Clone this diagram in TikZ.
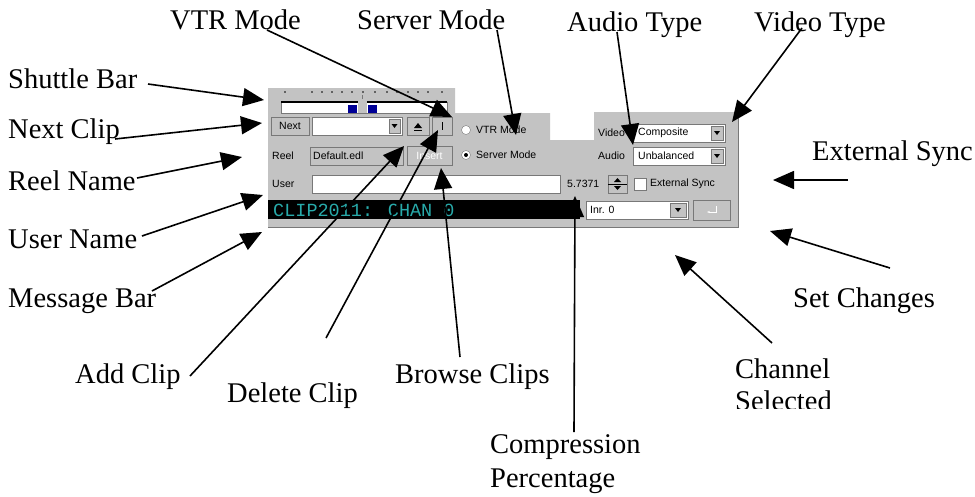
\documentclass[tikz,border=0pt]{standalone}
\usepackage{fontspec}
\setmainfont{Liberation Serif}
\newfontfamily\uifont{Liberation Sans}
\newfontfamily\ledfont{Liberation Mono}
\usetikzlibrary{arrows.meta}
\definecolor{wingrey}{RGB}{195,195,195}
\definecolor{windark}{RGB}{120,120,120}
\definecolor{ledcyan}{RGB}{40,170,170}
\definecolor{thumbblue}{RGB}{0,0,150}
\begin{document}
\begin{tikzpicture}[x=1pt, y=-1pt,
    callout/.style={-{Triangle[length=21pt,width=18pt]}, line width=1.6pt},
    lbl/.style={font=\fontsize{28.5}{34}\selectfont, inner sep=0pt, anchor=base west},
    ui/.style={font=\uifont\fontsize{10.5}{11}\selectfont, inner sep=0pt, anchor=west},
    field/.style={fill=white, draw=windark, line width=0.8pt},
    btn/.style={fill=wingrey, draw=windark, line width=0.8pt, inner sep=0pt}]
    \useasboundingbox[fill=white] (0,0) rectangle (975,496);

    % Screenshot panel
    \fill[wingrey] (268,88) -- (455,88) -- (455,113) -- (550,113) -- (550,140)
        -- (594,140) -- (594,112) -- (738,112) -- (738,227) -- (268,227) -- cycle;
    \draw[windark, line width=1pt] (268,227) -- (738,227) -- (738,112);

    % Shuttle bar
    \foreach \x in {285,312,322,332,342,352,363,375,387,397,408,418,428,442}
        \fill (\x,92) circle (0.9);
    \draw[field] (281,102) rectangle (447,113);
    \draw[black, line width=1.2pt] (281,102) -- (447,102);
    \fill[wingrey] (358,101) rectangle (367,113);
    \draw[windark] (362.5,95) -- (362.5,99);
    \fill[thumbblue] (348,105) rectangle (357,113);
    \fill[thumbblue] (368,105) rectangle (377,113);

    % Next clip row
    \node[btn, ui, anchor=center, minimum width=38pt, minimum height=18pt] (bNext) at (290,126) {Next};
    \draw[field] (312,117) rectangle (402,135);
    \draw[btn] (389,119) rectangle (400,133);
    \fill (391.5,124) -- (397.5,124) -- (394.5,128) -- cycle;
    \draw[btn] (407,117) rectangle (429,135);
    \fill (414,128) -- (422,128) -- (418,123) -- cycle;
    \draw (414,130.5) -- (422,130.5);
    \draw[btn] (432,117) rectangle (452,135);
    \draw (442,122) -- (442,130);
    \draw[fill=white, draw=windark] (466,130) circle (4.5);
    \node[ui] (tVTR) at (476,130) {VTR Mode};

    % Reel row
    \node[ui] (tReel) at (272,156) {Reel};
    \draw[fill=wingrey, draw=windark, line width=0.8pt] (310,147) rectangle (403,165);
    \node[ui] (tDefault) at (313,156) {Default.edl};
    \node[btn, ui, anchor=center, minimum width=45pt, minimum height=19pt,
        text=white] (bInsert) at (429.5,156) {Insert};
    \draw[fill=white, draw=windark] (466,155) circle (4.5);
    \fill (466,155) circle (2);
    \node[ui] (tServer) at (476,155) {Server Mode};

    % Video and audio types
    \node[ui] (tVideo) at (598,133) {Video};
    \draw[field] (633,124) rectangle (725,142);
    \node[ui] (tVideoVal) at (638,133) {Composite};
    \draw[btn] (711,126) rectangle (723,140);
    \fill (714,131) -- (720,131) -- (717,135) -- cycle;
    \node[ui] (tAudio) at (598,156) {Audio};
    \draw[field] (633,147) rectangle (725,165);
    \node[ui] (tAudioVal) at (638,156) {Unbalanced};
    \draw[btn] (711,149) rectangle (723,163);
    \fill (714,154) -- (720,154) -- (717,158) -- cycle;

    % User row
    \node[ui] (tUser) at (272,184) {User};
    \draw[field] (312,175) rectangle (560,193);
    \node[ui] (tPct) at (567,184) {5.7371};
    \draw[btn] (608,175) rectangle (627,193);
    \draw (608,184) -- (627,184);
    \fill (614,182) -- (621,182) -- (617.5,178) -- cycle;
    \fill (614,186) -- (621,186) -- (617.5,190) -- cycle;
    \draw[field] (634,178) rectangle (646,190);
    \node[ui] (tExt) at (650,184) {External Sync};

    % Message bar row
    \fill[black] (268,200) rectangle (580,219);
    \node[font=\ledfont\fontsize{18.5}{19}\selectfont, text=ledcyan, inner sep=0pt,
        anchor=west] (tMsg) at (273,210) {CLIP2011: CHAN 0};
    \draw[field] (586,201) rectangle (688,219);
    \node[ui] (tInr) at (590,210) {Inr. 0};
    \draw[btn] (670,203) rectangle (686,217);
    \fill (675,208) -- (681,208) -- (678,212) -- cycle;
    \draw[btn] (693,200) rectangle (730,220);
    \draw[white, line width=1pt, -{Stealth[length=3pt]}] (716,206) -- (716,212) -- (707,212);

    % Labels
    \node[lbl] (lblVTR) at (170,29) {VTR Mode};
    \node[lbl] (lblServer) at (357,29) {Server Mode};
    \node[lbl] (lblAudio) at (567,31) {Audio Type};
    \node[lbl] (lblVideo) at (754,31) {Video Type};
    \node[lbl] (lblShuttle) at (8,88) {Shuttle Bar};
    \node[lbl] (lblNext) at (8,138) {Next Clip};
    \node[lbl] (lblReel) at (8,190) {Reel Name};
    \node[lbl] (lblUser) at (8,248) {User Name};
    \node[lbl] (lblMsg) at (8,307) {Message Bar};
    \node[lbl] (lblExt) at (812,160) {External Sync};
    \node[lbl] (lblSet) at (793,307) {Set Changes};
    \node[lbl] (lblAdd) at (75,383) {Add Clip};
    \node[lbl] (lblDelete) at (227,402) {Delete Clip};
    \node[lbl] (lblBrowse) at (395,383) {Browse Clips};
    \node[lbl] (lblComp) at (490,453) {Compression};
    \node[lbl] (lblPerc) at (490,487) {Percentage};
    \node[lbl] (lblChan) at (735,378) {Channel};
    \begin{scope}
        \clip (720,385) rectangle (860,408);
        \node[lbl] (lblSel) at (735,410) {Selected};
    \end{scope}

    % Arrow tips on the panel
    \coordinate (tipShuttle) at (264,100);
    \coordinate (tipNext) at (262,123);
    \coordinate (tipReel) at (242,157);
    \coordinate (tipUser) at (263,195);
    \coordinate (tipMsg) at (262,232);
    \coordinate (tipVTR) at (452,117);
    \coordinate (tipServer) at (516,135);
    \coordinate (tipAudio) at (633,145);
    \coordinate (tipVideo) at (732,122);
    \coordinate (tipExt) at (773,180);
    \coordinate (tipSet) at (770,231);
    \coordinate (tipChan) at (675,255);
    \coordinate (tipComp) at (575,196);
    \coordinate (tipBrowse) at (441,168);
    \coordinate (tipDelete) at (438,130);
    \coordinate (tipAdd) at (404,146);

    % Callouts
    \draw[callout] ([shift={(140,-4)}]lblShuttle.base west) -- (tipShuttle);
    \draw[callout] ([shift={(107,1)}]lblNext.base west) -- (tipNext);
    \draw[callout] ([shift={(129,-12)}]lblReel.base west) -- (tipReel);
    \draw[callout] ([shift={(134,-12)}]lblUser.base west) -- (tipUser);
    \draw[callout] ([shift={(144,-16)}]lblMsg.base west) -- (tipMsg);
    \draw[callout] ([shift={(97,1)}]lblVTR.base west) -- (tipVTR);
    \draw[callout] ([shift={(140,1)}]lblServer.base west) -- (tipServer);
    \draw[callout] ([shift={(50,1)}]lblAudio.base west) -- (tipAudio);
    \draw[callout] ([shift={(48,-3)}]lblVideo.base west) -- (tipVideo);
    \draw[callout] ([shift={(36,20)}]lblExt.base west) -- (tipExt);
    \draw[callout] ([shift={(97,-39)}]lblSet.base west) -- (tipSet);
    \draw[callout] ([shift={(37,-35)}]lblChan.base west) -- (tipChan);
    \draw[callout] ([shift={(84,-21)}]lblComp.base west) -- (tipComp);
    \draw[callout] ([shift={(65,-26)}]lblBrowse.base west) -- (tipBrowse);
    \draw[callout] ([shift={(99,-64)}]lblDelete.base west) -- (tipDelete);
    \draw[callout] ([shift={(115,-7)}]lblAdd.base west) -- (tipAdd);
\end{tikzpicture}
\end{document}
